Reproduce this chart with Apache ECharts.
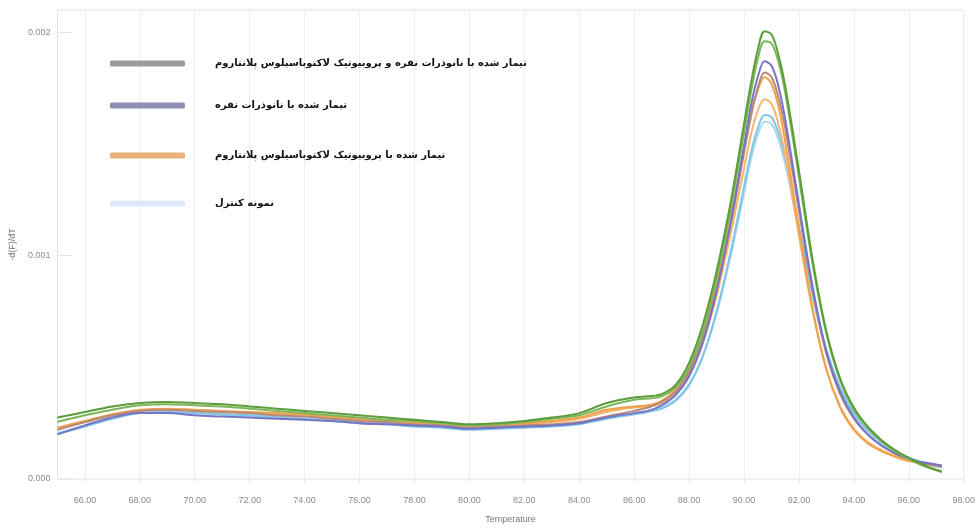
<!DOCTYPE html>
<html>
<head>
<meta charset="utf-8">
<title>Melt curve</title>
<script src="https://cdn.jsdelivr.net/npm/echarts@6/dist/echarts.min.js"></script>
<style>
  html, body { margin: 0; padding: 0; background: #fff; }
  #chart { width: 978px; height: 529px; }
</style>
</head>
<body>
<div id="chart"></div>
<script>
// Temperature grid (°C) shared by all melt curves
const temps = [65,66,67,68,69,70,71,72,73,74,75,76,77,78,79,80,81,82,83,84,85,86,86.5,87,87.5,88,88.5,89,89.5,90,90.25,90.5,90.75,91,91.25,91.5,92,92.5,93,93.5,94,94.5,95,95.5,96,96.5,97,97.2];

// -d(F)/dT values, in units of 1e-4
const greenA = [2.75,3.0,3.25,3.4,3.45,3.4,3.35,3.25,3.15,3.05,2.95,2.85,2.75,2.65,2.55,2.45,2.5,2.6,2.75,2.95,3.4,3.65,3.7,3.8,4.2,5.2,6.9,9.3,12.3,15.9,17.7,19.2,20.05,19.9,19.0,17.6,13.8,9.8,6.6,4.5,3.2,2.35,1.75,1.3,0.95,0.65,0.4,0.35];
const greenB = [2.55,2.85,3.1,3.3,3.35,3.3,3.25,3.15,3.05,2.95,2.85,2.75,2.65,2.6,2.5,2.4,2.45,2.55,2.7,2.85,3.25,3.55,3.6,3.7,4.1,5.0,6.6,9.0,12.0,15.5,17.3,18.8,19.6,19.5,18.7,17.3,13.5,9.6,6.5,4.4,3.1,2.3,1.7,1.25,0.9,0.6,0.4,0.3];
const purple = [2.0,2.4,2.75,2.95,2.95,2.85,2.8,2.75,2.7,2.65,2.6,2.5,2.45,2.4,2.35,2.25,2.3,2.35,2.4,2.5,2.75,2.95,3.05,3.3,3.75,4.6,6.1,8.4,11.4,14.9,16.7,18.0,18.7,18.5,17.6,16.1,12.3,8.6,5.7,3.9,2.75,2.0,1.5,1.15,0.9,0.75,0.65,0.6];
const brown = [2.2,2.55,2.85,3.05,3.1,3.05,3.0,2.95,2.85,2.8,2.7,2.6,2.55,2.45,2.4,2.3,2.35,2.4,2.45,2.55,2.8,3.05,3.2,3.45,3.9,4.8,6.3,8.5,11.3,14.6,16.2,17.5,18.2,18.0,17.1,15.7,12.0,8.4,5.6,3.8,2.7,2.0,1.5,1.15,0.9,0.72,0.6,0.55];
const orangeA = [2.3,2.6,2.9,3.1,3.15,3.1,3.05,3.0,2.95,2.9,2.8,2.7,2.65,2.55,2.45,2.4,2.45,2.5,2.6,2.75,3.1,3.25,3.3,3.5,4.0,4.9,6.4,8.7,11.6,14.8,16.4,17.4,18.0,17.7,16.7,15.1,11.2,7.6,4.9,3.2,2.2,1.6,1.25,1.0,0.8,0.7,0.6,0.6];
const orangeB = [2.25,2.55,2.85,3.05,3.1,3.05,3.0,2.95,2.9,2.85,2.75,2.65,2.6,2.5,2.45,2.35,2.4,2.45,2.55,2.7,3.0,3.2,3.25,3.4,3.85,4.7,6.1,8.2,10.9,13.9,15.4,16.5,17.0,16.8,15.9,14.5,10.9,7.5,4.9,3.25,2.25,1.65,1.3,1.05,0.85,0.72,0.62,0.6];
const blueA = [2.0,2.35,2.7,2.95,3.0,2.95,2.9,2.85,2.75,2.7,2.6,2.5,2.45,2.35,2.3,2.2,2.25,2.3,2.35,2.45,2.7,2.9,3.0,3.15,3.5,4.2,5.5,7.5,10.1,13.1,14.6,15.7,16.3,16.2,15.5,14.4,11.3,8.3,5.8,4.1,2.95,2.2,1.65,1.25,0.95,0.75,0.6,0.55];
const blueB = [2.05,2.4,2.75,3.0,3.05,3.0,2.9,2.85,2.8,2.7,2.65,2.55,2.5,2.4,2.35,2.25,2.3,2.35,2.4,2.5,2.75,2.95,3.05,3.2,3.55,4.25,5.5,7.4,9.9,12.8,14.3,15.4,16.0,15.9,15.2,14.1,11.1,8.1,5.7,4.0,2.9,2.15,1.6,1.2,0.9,0.7,0.55,0.5];

// Treatment groups (legend text)
const groupNames = [
  'تیمار شده با نانوذرات نقره و پروبیوتیک لاکتوباسیلوس پلانتاروم',
  'تیمار شده با نانوذرات نقره',
  'تیمار شده با پروبیوتیک لاکتوباسیلوس پلانتاروم',
  'نمونه کنترل'
];
const groupKeyColors = ['#9b9b9b', '#8e8eb6', '#eab07a', '#dde9f6'];

const xTicks = [66,68,70,72,74,76,78,80,82,84,86,88,90,92,94,96,98];

const pairs = (vals) => temps.map((t, i) => [t, vals[i]]);

// curves drawn back to front
const curves = [
  { group: 3, color: '#a9d9f1', vals: blueB },
  { group: 3, color: '#7fc5e6', vals: blueA },
  { group: 2, color: '#f6b56a', vals: orangeB },
  { group: 2, color: '#f0a14c', vals: orangeA },
  { group: 1, color: '#b58a7c', vals: brown },
  { group: 1, color: '#7575c6', vals: purple },
  { group: 0, color: '#7cb65a', vals: greenB },
  { group: 0, color: '#5b9d3b', vals: greenA }
];

const series = curves.map(c => ({
  type: 'line',
  name: groupNames[c.group],
  data: pairs(c.vals),
  smooth: 0.35,
  showSymbol: false,
  lineStyle: { color: c.color, width: 2 },
  itemStyle: { color: c.color }
}));

const legendRows = [63, 105, 155, 203];
const legends = groupNames.map((name, i) => ({
  orient: 'vertical',
  left: 110,
  top: legendRows[i] - 7,
  padding: 0,
  icon: 'roundRect',
  itemWidth: 75,
  itemHeight: 6,
  selectedMode: false,
  data: [{ name: name, itemStyle: { color: groupKeyColors[i] } }],
  textStyle: {
    fontFamily: 'DejaVu Sans',
    fontWeight: 'bold',
    fontSize: 10,
    color: '#111',
    lineHeight: 15,
    padding: [0, 0, 0, 25]
  }
}));

const chart = echarts.init(document.getElementById('chart'), null, { renderer: 'canvas' });
chart.setOption({
  animation: false,
  backgroundColor: '#ffffff',
  grid: {
    left: 57, right: 13, top: 10, bottom: 49,
    show: true, borderColor: '#e2e2e2', borderWidth: 1
  },
  legend: legends,
  xAxis: {
    type: 'value',
    min: 65, max: 98, interval: 1,
    name: 'Temperature',
    nameLocation: 'middle',
    nameGap: 36,
    nameTextStyle: { fontSize: 9, color: '#777', fontFamily: 'Liberation Sans' },
    axisLine: { show: false },
    axisTick: { show: true, customValues: xTicks, length: 4, lineStyle: { color: '#e6e6e6' } },
    axisLabel: {
      customValues: xTicks,
      margin: 17,
      fontSize: 9,
      color: '#8a8a8a',
      fontFamily: 'Liberation Sans',
      formatter: v => v.toFixed(2)
    },
    splitLine: { show: true, lineStyle: { color: '#eeeeee', width: 1 } }
  },
  yAxis: {
    type: 'value',
    min: 0, max: 21, interval: 10,
    name: '-d(F)/dT',
    nameLocation: 'middle',
    nameGap: 40,
    nameRotate: 90,
    nameTextStyle: { fontSize: 9, color: '#777', fontFamily: 'Liberation Sans' },
    axisLine: { show: false },
    axisTick: { show: true, inside: true, length: 15, lineStyle: { color: '#e4e4e4' } },
    axisLabel: {
      showMaxLabel: false,
      margin: 7,
      fontSize: 9,
      color: '#8a8a8a',
      fontFamily: 'Liberation Sans',
      formatter: v => (v / 10000).toFixed(3)
    },
    splitLine: { show: false }
  },
  series: series
});
</script>
</body>
</html>
